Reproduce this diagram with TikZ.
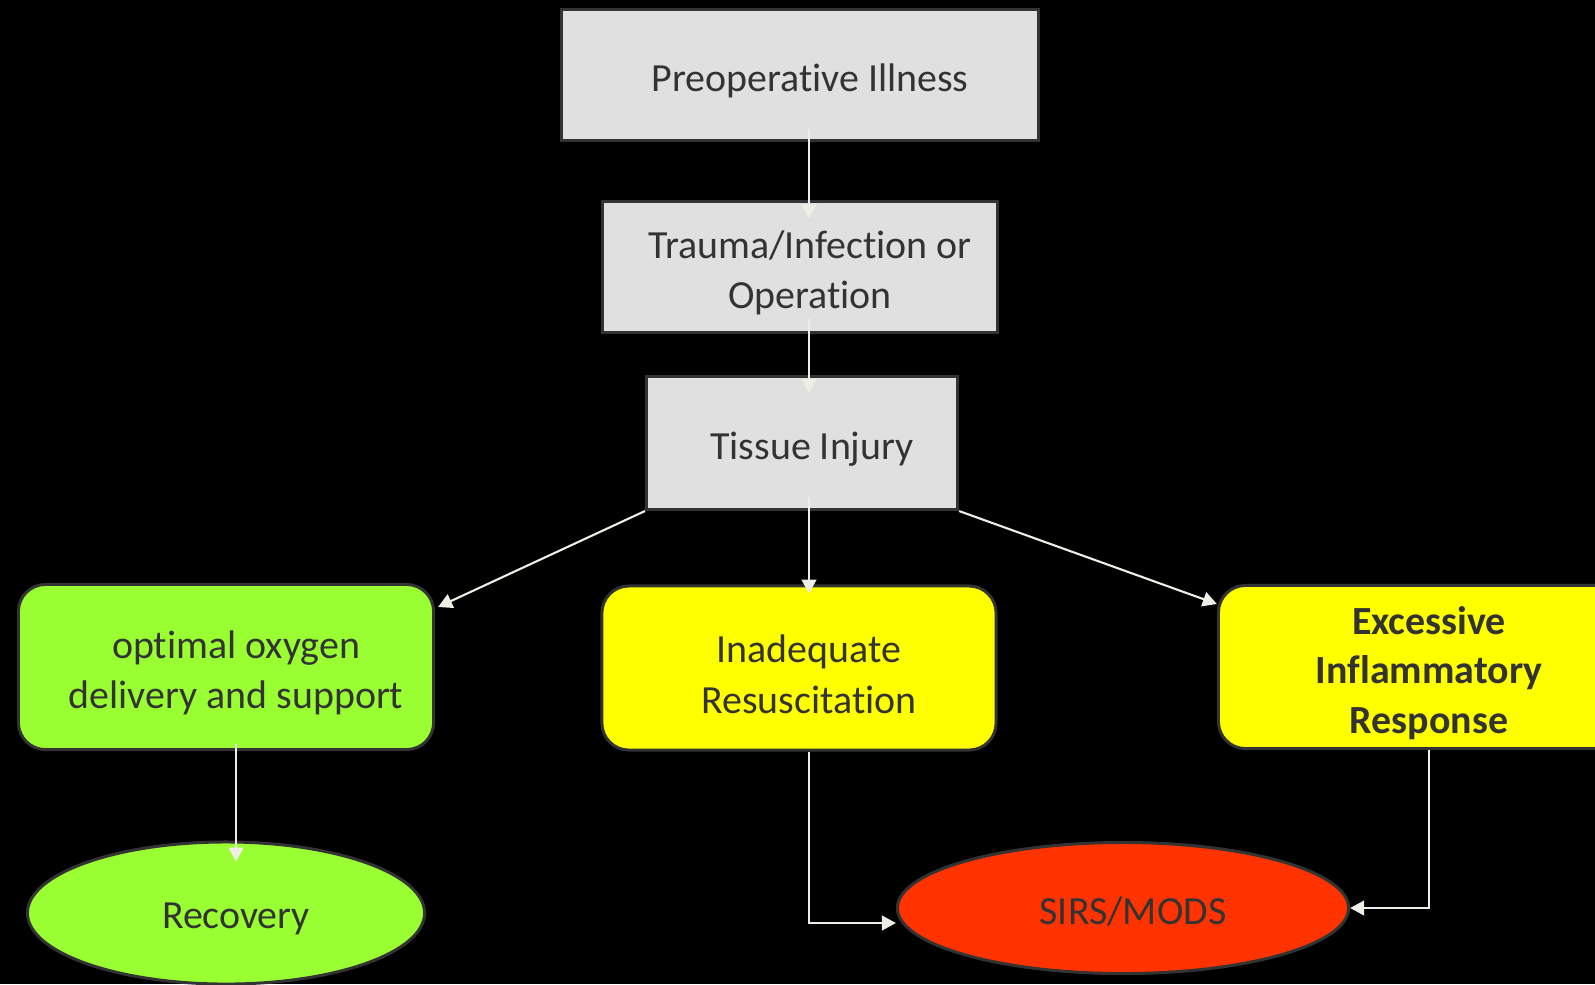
\documentclass[tikz,border=0pt]{standalone}
\usepackage{fontspec}
\setmainfont{Carlito}[Ligatures=NoCommon]
\usetikzlibrary{arrows.meta,shapes.geometric,calc}
\definecolor{boxgray}{HTML}{E0E0E0}
\definecolor{edgegray}{HTML}{333333}
\definecolor{txtgray}{HTML}{333333}
\definecolor{okgreen}{HTML}{99FF33}
\definecolor{warnyellow}{HTML}{FFFF00}
\definecolor{sirsred}{HTML}{FF3300}
\definecolor{linkwhite}{HTML}{EEEEE6}
\begin{document}
\begin{tikzpicture}[x=0.01cm,y=-0.01cm,
		shape box/.style={draw=edgegray,line width=0.85pt},
		graybox/.style={shape box,rectangle,fill=boxgray},
		roundbox/.style={shape box,rectangle,rounded corners=0.27cm},
		oval/.style={shape box,ellipse},
		lbl/.style={text=txtgray,align=center,font=\fontsize{11.35}{14.4}\selectfont,xshift=0.1cm,yshift=-0.06cm},
		link/.style={draw=linkwhite,line width=0.6pt,-{Triangle[length=4pt,width=4.2pt]}}]
	\useasboundingbox (0,0) rectangle (1595,984);
	\fill[black] (0,0) rectangle (1595,984);
	\node[graybox,minimum width=4.76cm,minimum height=1.31cm,label={[lbl]center:Preoperative Illness}] (P) at (800,75) {};
	\node[graybox,minimum width=3.94cm,minimum height=1.30cm,label={[lbl]center:{Trauma/Infection or\\Operation}}] (T) at (800,267) {};
	\node[graybox,minimum width=3.11cm,minimum height=1.33cm,label={[lbl]center:Tissue Injury}] (I) at (802,443) {};
	\node[roundbox,fill=okgreen,minimum width=4.15cm,minimum height=1.65cm,label={[lbl]center:{optimal oxygen\\delivery and support}}] (O) at (226,667) {};
	\node[roundbox,fill=warnyellow,minimum width=3.94cm,minimum height=1.64cm,label={[lbl]center:{Inadequate\\Resuscitation}}] (N) at (799,668) {};
	\node[roundbox,fill=warnyellow,minimum width=4.15cm,minimum height=1.63cm,label={[lbl,xshift=-0.07cm,font=\fontsize{11.35}{14}\selectfont\bfseries]center:{Excessive\\Inflammatory\\Response}}] (E) at (1426,667) {};
	\node[oval,fill=okgreen,minimum width=3.97cm,minimum height=1.42cm,label={[lbl]center:Recovery}] (R) at (226,913) {};
	\node[oval,fill=sirsred,minimum width=4.51cm,minimum height=1.31cm,label={[lbl,yshift=0.03cm]center:SIRS/MODS}] (S) at (1123,908) {};
	\draw[link,shorten <=-3.8pt,shorten >=-5.1pt] ([xshift=0.09cm]P.south) -- ([xshift=0.09cm]T.north);
	\draw[link,shorten <=-4pt,shorten >=-5.1pt] ([xshift=0.09cm]T.south) -- ([xshift=0.09cm]T.south|-I.north);
	\draw[link,shorten <=-4pt,shorten >=-2.6pt] ([xshift=0.09cm]T.south|-I.south) -- ([xshift=0.09cm]T.south|-N.north);
	\draw[link] (I.south west) -- ($(O.north east)+(3,24)$);
	\draw[link] (I.south east) -- ($(E.north west)+(0,20)$);
	\draw[link,shorten <=-2pt,shorten >=-6pt] ([xshift=0.1cm]O.south) -- ([xshift=0.1cm]R.north);
	\draw[link] ([xshift=0.1cm]N.south) |- ($(S.west)+(0,15)$);
	\draw[link] ([xshift=0.03cm]E.south) |- (S.east);
\end{tikzpicture}
\end{document}
